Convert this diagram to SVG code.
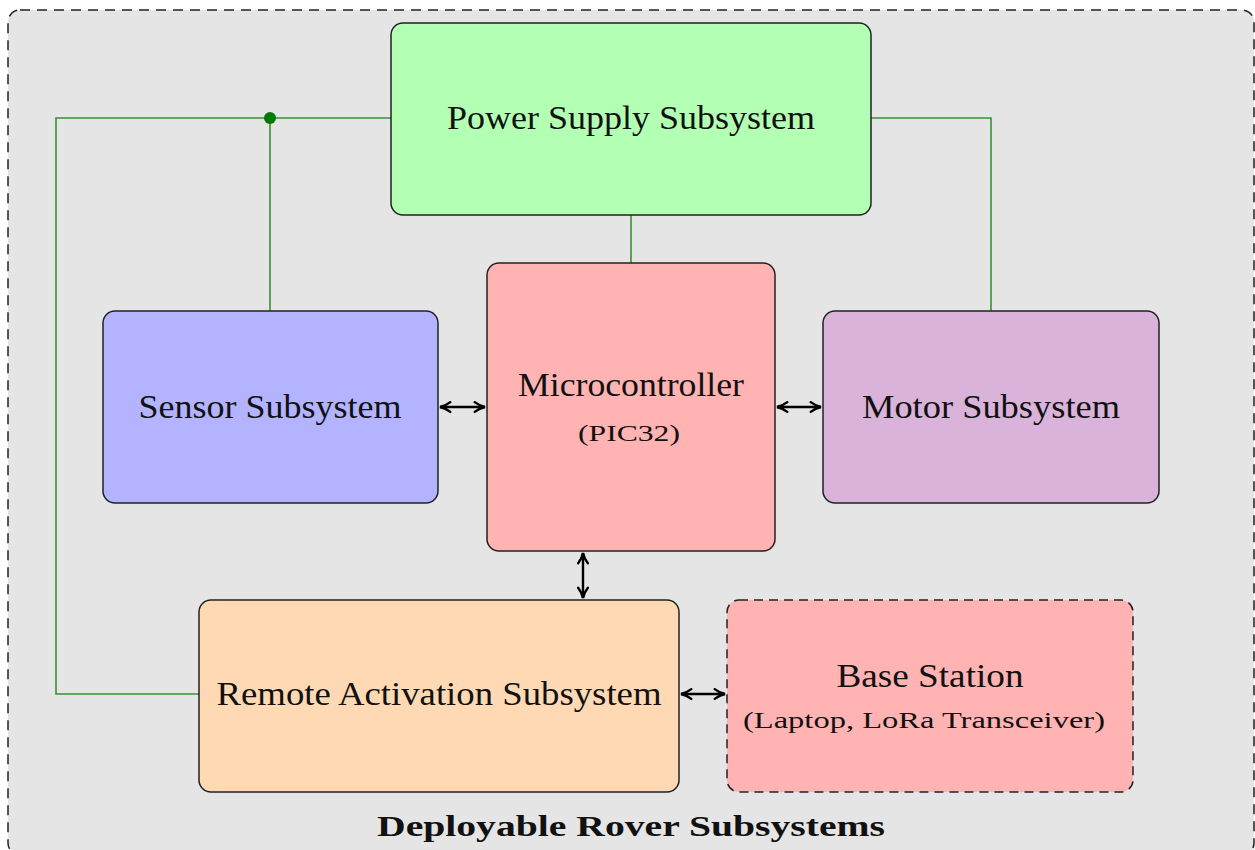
<svg xmlns="http://www.w3.org/2000/svg" width="1255" height="850" viewBox="0 0 1255 850">
<defs>
<marker id="ah" viewBox="0 0 12 12" refX="11" refY="6" markerWidth="13" markerHeight="13" markerUnits="userSpaceOnUse" orient="auto-start-reverse">
<path d="M1.5,1.5 Q6,5 11,6 Q6,7 1.5,10.5" fill="none" stroke="#000" stroke-width="2.2" stroke-linecap="round"/>
</marker>
<style>
.node{stroke:#222;stroke-width:1.5}
.t{font-family:"Liberation Serif","DejaVu Serif",serif;fill:#111;text-anchor:middle}
.big{font-size:33px}
.small{font-size:24px}
.pw{fill:none;stroke:#3a8f3a;stroke-width:1.6}
.ar{fill:none;stroke:#000;stroke-width:2.4;marker-start:url(#ah);marker-end:url(#ah)}
</style>
</defs>
<rect x="8" y="10" width="1246" height="845" rx="12" fill="#e5e5e5" stroke="#222" stroke-width="1.5" stroke-dasharray="10 7"/>
<g id="connectors">
<polyline class="pw" points="391,118 56,118 56,694 199,694"/>
<line class="pw" x1="270" y1="118" x2="270" y2="311"/>
<polyline class="pw" points="871,118 991,118 991,311"/>
<line class="pw" x1="631" y1="215" x2="631" y2="263"/>
<circle cx="270" cy="118" r="6" fill="#007a00"/>
<line class="ar" x1="440" y1="407" x2="485" y2="407"/>
<line class="ar" x1="777" y1="407" x2="821" y2="407"/>
<line class="ar" x1="583" y1="553" x2="583" y2="598"/>
<line class="ar" x1="681" y1="694" x2="725" y2="694"/>
</g>
<g id="power">
<rect class="node" x="391" y="23" width="480" height="192" rx="12" fill="#b3ffb3"/>
<text class="t big" x="631" y="129" textLength="368" lengthAdjust="spacingAndGlyphs">Power Supply Subsystem</text>
</g>
<g id="sensor">
<rect class="node" x="103" y="311" width="335" height="192" rx="12" fill="#b3b3ff"/>
<text class="t big" x="270" y="418" textLength="263" lengthAdjust="spacingAndGlyphs">Sensor Subsystem</text>
</g>
<g id="micro">
<rect class="node" x="487" y="263" width="288" height="288" rx="12" fill="#ffb3b3"/>
<text class="t big" x="631" y="396" textLength="226" lengthAdjust="spacingAndGlyphs">Microcontroller</text>
<text class="t small" x="629" y="441" textLength="102" lengthAdjust="spacingAndGlyphs">(PIC32)</text>
</g>
<g id="motor">
<rect class="node" x="823" y="311" width="336" height="192" rx="12" fill="#d9b3d9"/>
<text class="t big" x="991" y="418" textLength="258" lengthAdjust="spacingAndGlyphs">Motor Subsystem</text>
</g>
<g id="remote">
<rect class="node" x="199" y="600" width="480" height="192" rx="12" fill="#ffd9b3"/>
<text class="t big" x="439" y="705" textLength="445" lengthAdjust="spacingAndGlyphs">Remote Activation Subsystem</text>
</g>
<g id="base">
<rect class="node" x="727" y="600" width="406" height="192" rx="12" fill="#ffb3b3" stroke-dasharray="9 6"/>
<text class="t big" x="930" y="687" textLength="187" lengthAdjust="spacingAndGlyphs">Base Station</text>
<text class="t small" x="924" y="728" textLength="362" lengthAdjust="spacingAndGlyphs">(Laptop, LoRa Transceiver)</text>
</g>
<text class="t" x="631" y="836" font-size="30" font-weight="bold" textLength="508" lengthAdjust="spacingAndGlyphs">Deployable Rover Subsystems</text>
</svg>
